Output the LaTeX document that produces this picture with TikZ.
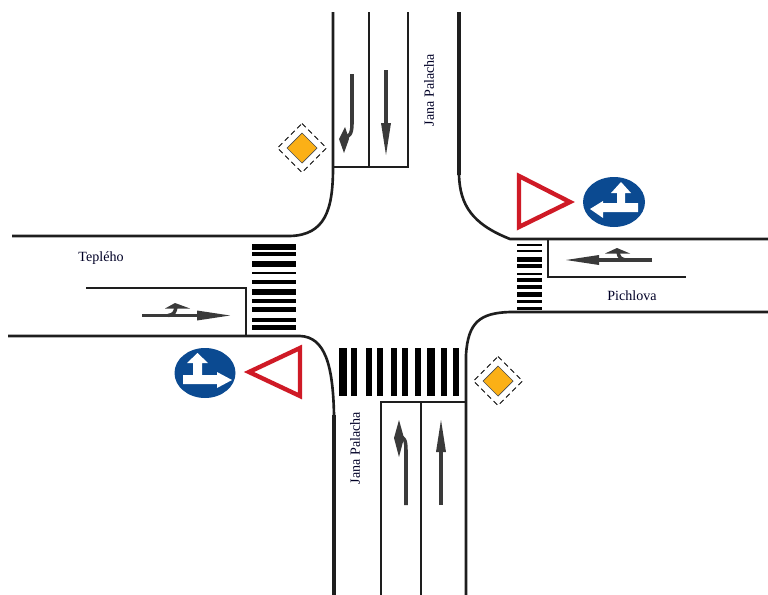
\documentclass[tikz,border=0pt]{standalone}
\usepackage{fontspec}
\setmainfont{Liberation Serif}
\definecolor{signblue}{HTML}{0B4A91}
\definecolor{signred}{HTML}{CF1A26}
\definecolor{signorange}{HTML}{FBB016}
\definecolor{markgray}{HTML}{3A3A3A}
\definecolor{roadblack}{HTML}{1E1E1E}
\tikzset{
  roadline/.style={roadblack,line width=1.5pt},
  lanemark/.style={markgray,line width=2pt},
  markhead/.style={fill=markgray,draw=none},
  yieldsign/.style={draw=signred,line width=2.5pt,fill=white,miter limit=10},
  streetname/.style={font=\fontsize{8}{9}\selectfont,text=black!85!blue,inner sep=0pt}
}
\begin{document}
\begin{tikzpicture}[x=0.02cm,y=-0.02cm]
  \useasboundingbox (0,0) rectangle (768,595);

  % severni rameno
  \draw[roadline] (333,12) -- (333,168) .. controls (333,210) and (325,235) .. (290,236) -- (12,236);
  \draw[roadline] (333,167) -- (408,167) -- (408,12);
  \draw[roadline] (369,12) -- (369,167);
  \draw[roadline,line width=2pt] (459,12) -- (459,175);
  \draw[roadline] (459,175) .. controls (460,205) and (472,224) .. (510,239) -- (768,239);

  % vychodni rameno
  \draw[roadline] (548,239) -- (548,277) -- (686,277);
  \draw[roadline] (768,312) -- (510,312) .. controls (480,313) and (468,322) .. (466,355) -- (466,595);

  % jizni rameno
  \draw[roadline] (381,595) -- (381,402) -- (466,402);
  \draw[roadline] (421,402) -- (421,595);
  \draw[roadline] (8,336) -- (300,336) .. controls (325,337) and (333,365) .. (334,415);
  \draw[roadline,line width=2pt] (334,415) -- (334,595);

  % zapadni rameno
  \draw[roadline] (86,288) -- (246,288) -- (246,336);

  % prechody
  \foreach \ya/\yb in {244/249.7,251.7/255.7,260.7/266.7,272.3/274.3,280/284.3,289.3/295.3,299/303,306.7/312.3,318/322,325.3/329.7}
    \fill (252,\ya) rectangle (296,\yb);
  \foreach \ya/\yb in {244/246,249.5/252,257/262,263.7/268,272.5/274.5,278/282,285/289,292/297,299.5/303,306.5/310}
    \fill (517,\ya) rectangle (542,\yb);
  \foreach \xa/\xb in {339.3/347.3,350.7/356.7,366/372,377.3/383.3,390.7/396.7,402/408,415.3/421.3,426.7/434.7,441.3/447.3,453.3/458.7}
    \fill (\xa,348) rectangle (\xb,396);

  % sipky v jizdnich pruzich
  \draw[lanemark] (386,70) -- (386,128);
  \fill[markhead] (386,155) -- (381,123) -- (391,123) -- cycle;
  \draw[lanemark] (352,74) -- (352,124) .. controls (352,134) and (349,137) .. (345,137);
  \fill[markhead] (344,153) -- (339,139) -- (345,127) -- (349,139) -- cycle;

  \draw[lanemark] (441,505) -- (441,450);
  \fill[markhead] (441,420) -- (436,452) -- (446,452) -- cycle;
  \draw[lanemark] (406,505) -- (406,450) .. controls (406,440) and (404,437) .. (400,437);
  \fill[markhead] (399,420) -- (394,438) -- (399,457) -- (404,438) -- cycle;

  \draw[lanemark] (652,260) -- (595,260);
  \fill[markhead] (566,260) -- (599,255) -- (599,265) -- cycle;
  \draw[lanemark] (628,260) .. controls (620,260) and (619,257) .. (618,252);
  \fill[markhead] (617,248) -- (630,253.5) -- (605,253.5) -- cycle;

  \draw[lanemark] (142,315.5) -- (200,315.5);
  \fill[markhead] (230,315.5) -- (197,310.5) -- (197,320.5) -- cycle;
  \draw[lanemark] (168,315.5) .. controls (174,315) and (175,312) .. (176,307);
  \fill[markhead] (175,303) -- (190,308.5) -- (165,308.5) -- cycle;

  % dej prednost v jizde
  \draw[yieldsign] (519,176) -- (519,227) -- (570,202) -- cycle;
  \draw[yieldsign] (300,348) -- (300,396) -- (249,372) -- cycle;

  % prikazany smer jizdy
  \fill[signblue] (614,202) ellipse (31 and 25);
  \fill[white] (621,182) -- (631,193) -- (625,193) -- (625,203) -- (638,203) -- (638,212) -- (603,212)
    -- (603,218) -- (590,209) -- (603,201) -- (603,203) -- (617,203) -- (617,193) -- (611,193) -- cycle;
  \fill[signblue] (205,373) ellipse (30.5 and 25);
  \fill[white] (197.5,353) -- (208,363) -- (202,363) -- (202,375) -- (217,375) -- (217,372) -- (232,380)
    -- (217,388) -- (217,384) -- (183,384) -- (183,375) -- (193,375) -- (193,363) -- (187,363) -- cycle;

  % hlavni pozemni komunikace
  \foreach \cx/\cy in {302/148,498/381} {
    \draw[black,densely dashed,line width=0.5pt,fill=white] (\cx,\cy-24.5) -- (\cx+24.5,\cy) -- (\cx,\cy+24.5) -- (\cx-24.5,\cy) -- cycle;
    \draw[black!70,line width=0.4pt,fill=signorange] (\cx,\cy-15) -- (\cx+15,\cy) -- (\cx,\cy+15) -- (\cx-15,\cy) -- cycle;
  }

  % nazvy ulic
  \node[streetname,rotate=90] (palachanorth) at (429,90) {Jana Palacha};
  \node[streetname,rotate=90] (palachasouth) at (355,448) {Jana Palacha};
  \node[streetname] (teplehoname) at (101,258) {Teplého};
  \node[streetname] (pichlovaname) at (632,296) {Pichlova};
\end{tikzpicture}
\end{document}
